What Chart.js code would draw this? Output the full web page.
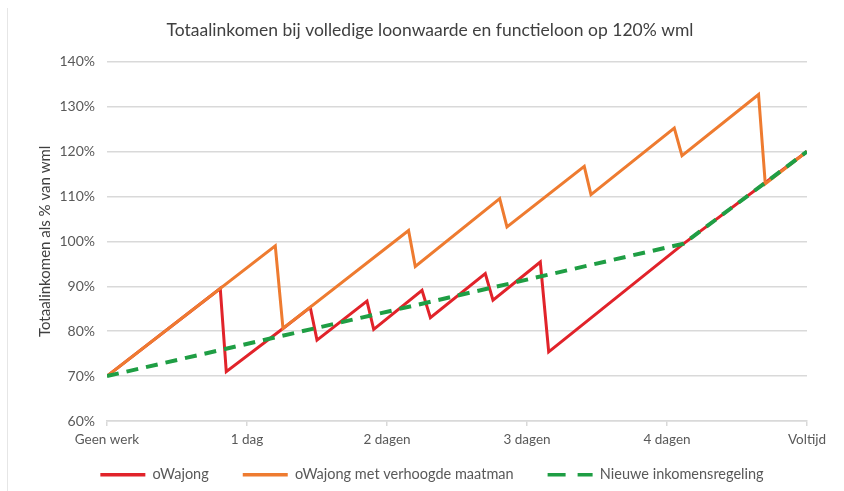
<!DOCTYPE html>
<html>
<head>
<meta charset="utf-8">
<script src="https://cdn.jsdelivr.net/npm/chart.js@4.4.0/dist/chart.umd.min.js"></script>
<style>
  html, body { margin: 0; padding: 0; background: #fff; }
  #wrap { position: relative; width: 844px; height: 491px; }
  #wrap::before { content: ""; position: absolute; left: 7px; top: 8px; bottom: 0; width: 1px; background: #e6e6e6; }
</style>
</head>
<body>
<div id="wrap"><canvas id="c" width="844" height="491"></canvas></div>
<script>
// ---- data ----
const xTickLabels = ['Geen werk', '1 dag', '2 dagen', '3 dagen', '4 dagen', 'Voltijd'];
const yTicks = [60, 70, 80, 90, 100, 110, 120, 130, 140];

const redX    = [0, 0.809, 0.852, 1.257, 1.452, 1.5, 1.857, 1.905, 2.25, 2.31, 2.702, 2.757, 3.095, 3.155, 4.119, 5];
const redY    = [70, 89.5, 71.0, 80.6, 85.3, 78.0, 86.7, 80.4, 89.1, 83.0, 92.8, 86.9, 95.4, 75.4, 99.5, 120];

const orangeX = [0, 1.202, 1.257, 2.154, 2.202, 2.805, 2.857, 3.409, 3.457, 4.052, 4.107, 4.654, 4.702, 5];
const orangeY = [70, 99.0, 80.6, 102.4, 94.4, 109.5, 103.2, 116.7, 110.4, 125.2, 119.1, 132.7, 112.8, 120];

const greenX  = [0, 4.119, 5];
const greenY  = [70, 99.5, 120];

const seriesNames = ['oWajong', 'oWajong met verhoogde maatman', 'Nieuwe inkomensregeling'];

const toPts = (xs, ys) => xs.map((x, i) => ({ x: x, y: ys[i] }));

const FONT = 'Lato, "Open Sans", sans-serif';
const RED = '#e1232a';
const ORANGE = '#ee7b30';
const GREEN = '#1f9e44';

// shift title / legend blocks horizontally and place legend row after layout
const placeBlocks = {
  id: 'placeBlocks',
  afterLayout(chart) {
    const t = chart.titleBlock;
    if (t) { t.left += 22.5; t.right += 22.5; }
    const l = chart.legend;
    if (l) {
      l.left += 24.5; l.right += 24.5;
      l.top = 433.5; l.bottom = 491;
    }
  }
};

new Chart(document.getElementById('c'), {
  type: 'line',
  data: {
    datasets: [
      { label: seriesNames[2], data: toPts(greenX, greenY), borderColor: GREEN, backgroundColor: GREEN,
        borderWidth: 4, borderDash: [12, 8], pointRadius: 0, tension: 0, order: 0 },
      { label: seriesNames[1], data: toPts(orangeX, orangeY), borderColor: ORANGE, backgroundColor: ORANGE,
        borderWidth: 3, pointRadius: 0, tension: 0, order: 1 },
      { label: seriesNames[0], data: toPts(redX, redY), borderColor: RED, backgroundColor: RED,
        borderWidth: 3, pointRadius: 0, tension: 0, order: 2 }
    ]
  },
  plugins: [placeBlocks],
  options: {
    responsive: false,
    animation: false,
    layout: { padding: { left: 8, right: 37, top: 0, bottom: 0 } },
    plugins: {
      tooltip: { enabled: false },
      title: {
        display: true,
        text: 'Totaalinkomen bij volledige loonwaarde en functieloon op 120% wml',
        color: '#404040',
        font: { family: FONT, size: 17.5, weight: 'normal' },
        padding: { top: 19.5, bottom: 21.2 }
      },
      legend: {
        position: 'bottom',
        maxHeight: 30,
        labels: {
          usePointStyle: true,
          pointStyle: 'line',
          pointStyleWidth: 45,
          color: '#595959',
          font: { family: FONT, size: 14.5 },
          padding: 34,
          generateLabels: function(chart) {
            const order = [2, 1, 0];
            return order.map(i => {
              const ds = chart.data.datasets[i];
              return {
                text: ds.label,
                fillStyle: ds.borderColor,
                strokeStyle: ds.borderColor,
                lineWidth: 3.5,
                lineDash: ds.borderDash ? [18, 12] : [],
                pointStyle: 'line',
                hidden: false,
                datasetIndex: i,
                fontColor: '#595959'
              };
            });
          }
        }
      }
    },
    scales: {
      x: {
        type: 'linear',
        min: 0,
        max: 5,
        afterBuildTicks: (s) => { s.ticks = xTickLabels.map((_, i) => ({ value: i })); },
        afterFit: (s) => { s.height = 40; },
        ticks: {
          autoSkip: false,
          maxRotation: 0,
          color: '#595959',
          font: { family: FONT, size: 13.5 },
          padding: 6,
          callback: (v) => xTickLabels[v]
        },
        grid: { display: true, drawOnChartArea: false, drawTicks: true, tickLength: 5, color: '#d9d9d9', lineWidth: 1.5 },
        border: { display: true, color: '#d9d9d9', width: 1.5 }
      },
      y: {
        min: 60,
        max: 140,
        afterBuildTicks: (s) => { s.ticks = yTicks.map(v => ({ value: v })); },
        afterFit: (s) => { s.width = 99; },
        ticks: {
          color: '#595959',
          font: { family: FONT, size: 14 },
          padding: 12,
          callback: (v) => v + '%'
        },
        grid: { color: '#d9d9d9', lineWidth: 1.5, drawTicks: false },
        border: { display: false },
        title: {
          display: true,
          text: 'Totaalinkomen als % van wml',
          color: '#404040',
          font: { family: FONT, size: 15 },
          padding: { top: 28, bottom: 0 }
        }
      }
    }
  }
});
</script>
</body>
</html>
